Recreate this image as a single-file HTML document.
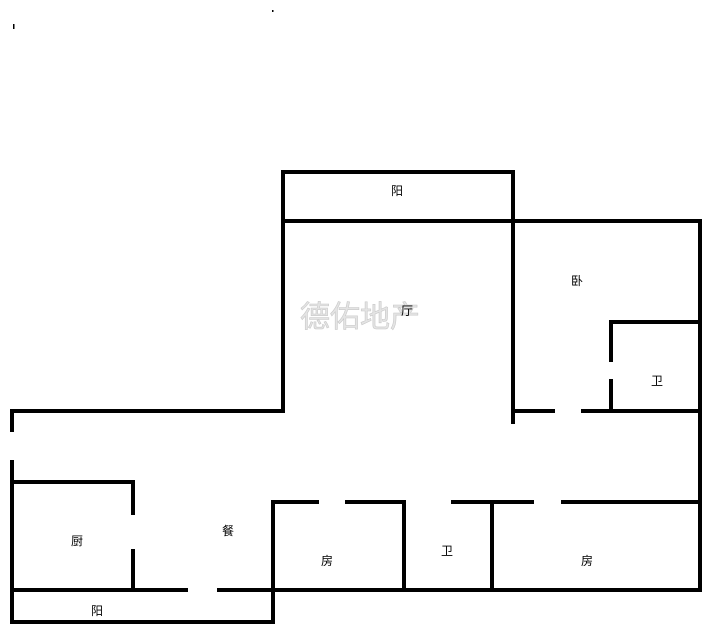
<!DOCTYPE html>
<html><head><meta charset="utf-8"><style>
html,body{margin:0;padding:0;background:#fff;width:714px;height:632px;overflow:hidden}
svg{display:block}
text{font-family:"Liberation Sans","Noto Sans CJK SC",sans-serif;font-size:12px;fill:#000;text-anchor:middle;dominant-baseline:middle}
</style></head><body>
<svg width="714" height="632" viewBox="0 0 714 632">
<g stroke="#000" stroke-width="4" stroke-linecap="square" fill="none">
<line x1="283" y1="172" x2="513" y2="172"/>
<line x1="283" y1="221" x2="700" y2="221"/>
<line x1="283" y1="172" x2="283" y2="411"/>
<line x1="513" y1="172" x2="513" y2="422"/>
<line x1="12" y1="411" x2="283" y2="411"/>
<line x1="12" y1="411" x2="12" y2="430"/>
<line x1="12" y1="462" x2="12" y2="622"/>
<line x1="700" y1="221" x2="700" y2="590"/>
<line x1="611" y1="322" x2="700" y2="322"/>
<line x1="611" y1="322" x2="611" y2="360"/>
<line x1="611" y1="381" x2="611" y2="411"/>
<line x1="513" y1="411" x2="553" y2="411"/>
<line x1="583" y1="411" x2="700" y2="411"/>
<line x1="12" y1="482" x2="133" y2="482"/>
<line x1="133" y1="482" x2="133" y2="513"/>
<line x1="133" y1="551" x2="133" y2="590"/>
<line x1="12" y1="590" x2="186" y2="590"/>
<line x1="219" y1="590" x2="700" y2="590"/>
<line x1="12" y1="622" x2="273" y2="622"/>
<line x1="273" y1="502" x2="273" y2="622"/>
<line x1="273" y1="502" x2="317" y2="502"/>
<line x1="347" y1="502" x2="404" y2="502"/>
<line x1="453" y1="502" x2="532" y2="502"/>
<line x1="563" y1="502" x2="700" y2="502"/>
<line x1="404" y1="502" x2="404" y2="590"/>
<line x1="492" y1="502" x2="492" y2="590"/>
</g>
<rect x="13" y="24" width="1.5" height="5" fill="#000"/>
<rect x="272" y="10" width="1.5" height="2" fill="#000"/>
<text x="360" y="319" style="font-size:30px;fill:#e4e4e4;stroke:#c8c8c8;stroke-width:0.6">德佑地产</text>
<text x="397" y="192">阳</text>
<text x="407" y="312">厅</text>
<text x="577" y="282">卧</text>
<text x="657" y="382">卫</text>
<text x="228" y="532">餐</text>
<text x="77" y="542">厨</text>
<text x="327" y="562">房</text>
<text x="447" y="552">卫</text>
<text x="587" y="562">房</text>
<text x="97" y="612">阳</text>
</svg>
</body></html>
